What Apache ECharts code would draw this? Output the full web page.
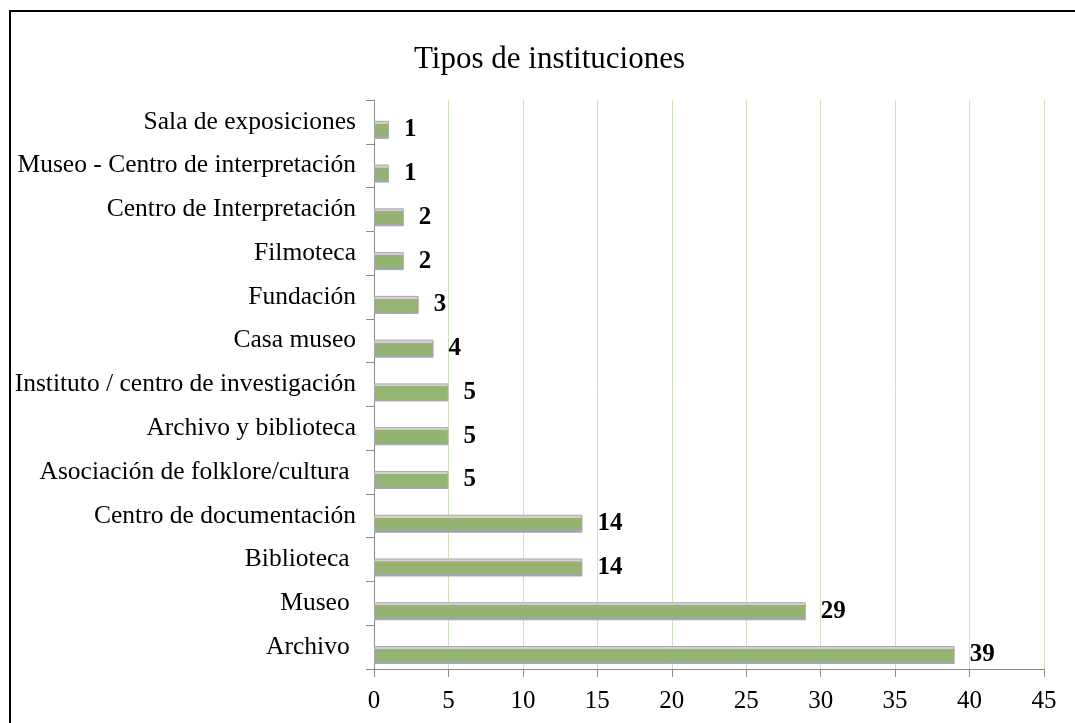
<!DOCTYPE html>
<html>
<head>
<meta charset="utf-8">
<title>Tipos de instituciones</title>
<script src="https://cdn.jsdelivr.net/npm/echarts@6/dist/echarts.min.js"></script>
<style>
  html, body { margin: 0; padding: 0; background: #fff; }
  #main { width: 1075px; height: 723px; }
</style>
</head>
<body>
<div id="main"></div>
<script>
// categories from bottom to top
var categories = [
    'Archivo ',
    'Museo ',
    'Biblioteca ',
    'Centro de documentación',
    'Asociación de folklore/cultura ',
    'Archivo y biblioteca',
    'Instituto / centro de investigación',
    'Casa museo',
    'Fundación',
    'Filmoteca',
    'Centro de Interpretación',
    'Museo - Centro de interpretación',
    'Sala de exposiciones'
];
var values = [39, 29, 14, 14, 5, 5, 5, 4, 3, 2, 2, 1, 1];
var xTicks = { min: 0, max: 45, interval: 5 };

var serif = 'Liberation Serif, Times New Roman, serif';

var chart = echarts.init(document.getElementById('main'));
var option = {
    backgroundColor: '#fff',
    animation: false,
    title: {
        text: 'Tipos de instituciones',
        left: 409,
        top: 39,
        textStyle: {
            fontFamily: serif,
            fontSize: 31,
            fontWeight: 'normal',
            color: '#000'
        }
    },
    graphic: [ {
        type: 'rect',
        shape: { x: 10, y: 11, width: 1200, height: 900 },
        style: { fill: 'none', stroke: '#000', lineWidth: 2 },
        silent: true
    } ],
    grid: {
        left: 374,
        right: 31,
        top: 100,
        bottom: 54
    },
    xAxis: {
        type: 'value',
        min: xTicks.min,
        max: xTicks.max,
        interval: xTicks.interval,
        axisLine: { show: true, lineStyle: { color: '#8c8c8c', width: 1 } },
        axisTick: { show: true, length: 8, lineStyle: { color: '#8c8c8c' } },
        axisLabel: {
            margin: 20,
            fontFamily: serif,
            fontSize: 25,
            color: '#000'
        },
        splitLine: { show: true, lineStyle: { color: '#cfe3bb', width: 1 } }
    },
    yAxis: {
        type: 'category',
        data: categories,
        axisLine: { show: true, lineStyle: { color: '#8c8c8c', width: 1 } },
        axisTick: { show: true, length: 8, lineStyle: { color: '#8c8c8c' } },
        axisLabel: {
            margin: 18,
            fontFamily: serif,
            fontSize: 25.5,
            color: '#000',
            padding: [7, 0, 0, 0]
        },
        splitLine: { show: false }
    },
    series: [
        {
            // empty series, only pushes the visible bars below the band centre
            type: 'bar',
            barWidth: 18,
            barGap: '-12%',
            silent: true,
            data: values.map(function () { return '-'; })
        },
        {
            type: 'bar',
            barWidth: 18,
            data: values,
            itemStyle: {
                color: {
                    type: 'linear', x: 0, y: 0, x2: 0, y2: 1,
                    colorStops: [
                        { offset: 0, color: '#dcd8cd' },
                        { offset: 0.16, color: '#d2d0c2' },
                        { offset: 0.17, color: '#95b372' },
                        { offset: 0.86, color: '#95b372' },
                        { offset: 0.87, color: '#a0a8b6' },
                        { offset: 1, color: '#9aa2b0' }
                    ]
                },
                borderColor: '#a4a9ad',
                borderWidth: 1
            },
            label: {
                show: true,
                position: 'right',
                distance: 15,
                fontFamily: serif,
                fontSize: 25,
                fontWeight: 'bold',
                color: '#000',
                padding: [4, 0, 0, 0]
            }
        }
    ]
};

chart.setOption(option);

window.onresize = chart.resize;
</script>
</body>
</html>
